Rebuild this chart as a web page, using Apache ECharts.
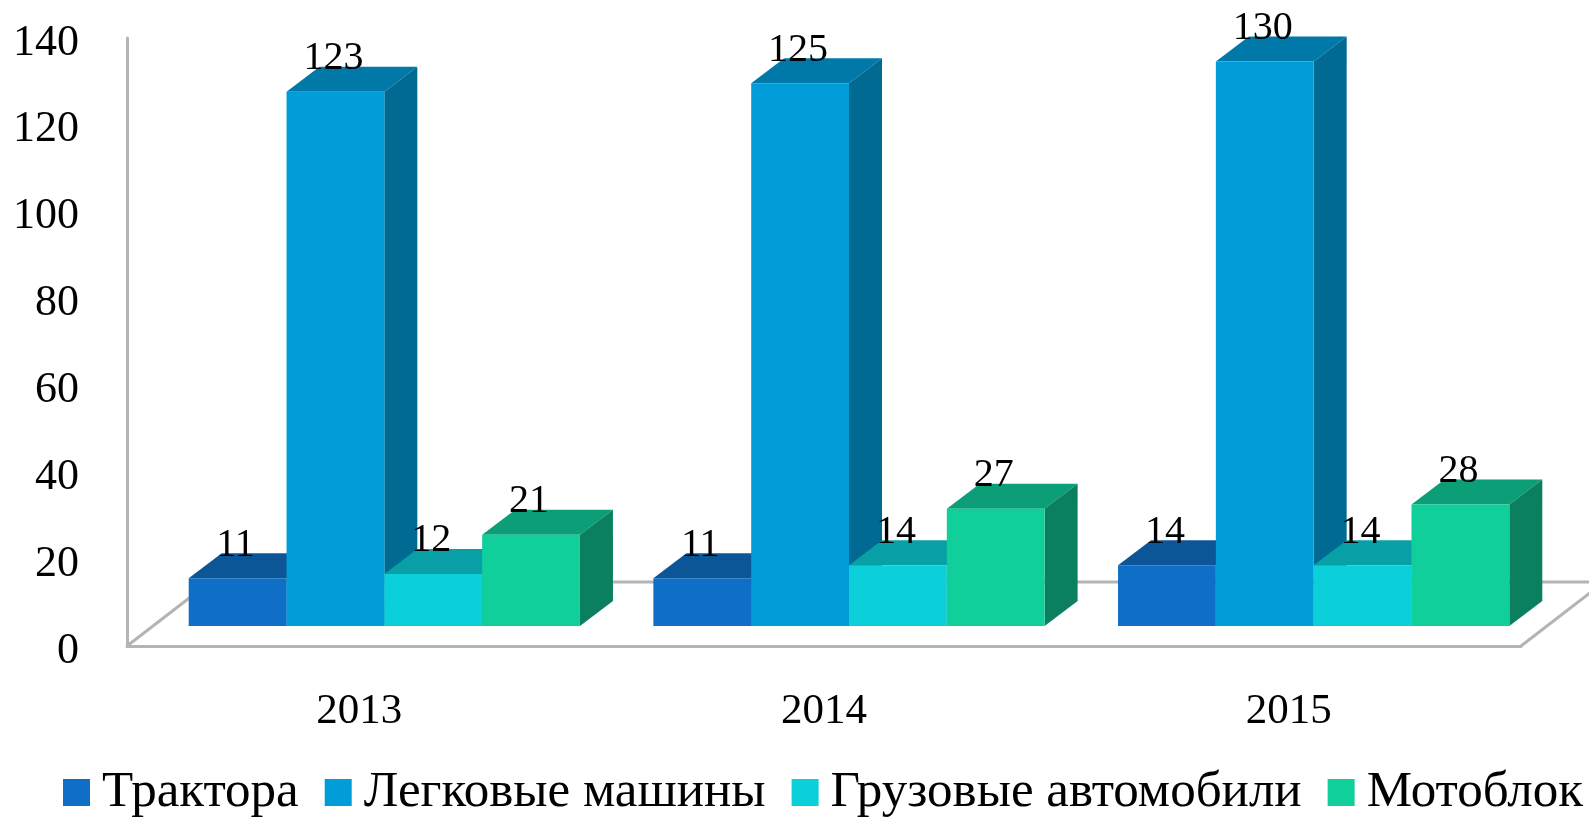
<!DOCTYPE html>
<html>
<head>
<meta charset="utf-8">
<style>
    html, body { margin: 0; padding: 0; background: #fff; }
    #chart { width: 1589px; height: 817px; }
</style>
</head>
<body>
<div id="chart"></div>
<script src="https://cdn.jsdelivr.net/npm/echarts@6/dist/echarts.min.js"></script>
<script>
const years = ['2013', '2014', '2015'];
const seriesNames = ['Трактора', 'Легковые машины', 'Грузовые автомобили', 'Мотоблок'];
const tractors = [11, 11, 14];
const cars = [123, 125, 130];
const trucks = [12, 14, 14];
const motoblocks = [21, 27, 28];
const frontColors = ['#0F6FC6', '#009DD9', '#0BD0D9', '#10CF9B'];
const topColors = ['#0C5597', '#0079A8', '#08A0A6', '#0C9F77'];
const sideColors = ['#0A4A85', '#006A93', '#078C92', '#0B8060'];

const FONT = '"Liberation Serif", serif';
const GRID_LEFT = 127, GRID_WIDTH = 1394, GRID_TOP = 38, GRID_BOTTOM = 171;

// смещение брусков от передней кромки пола и глубина самих брусков
const FLOOR_DX = 25, FLOOR_DY = -20;
const BAR_DX = 33, BAR_DY = -25;
const BAR_SHARE = 0.2105;

const chart = echarts.init(document.getElementById('chart'));

function floorItem(params, api) {
    const c = params.coordSys;
    const bottom = c.y + c.height;
    const style = { stroke: '#b4b4b4', lineWidth: 3, fill: null };
    return {
        type: 'group',
        children: [{
            type: 'polyline',
            shape: { points: [[c.x, bottom], [c.x + 83, bottom - 64], [c.x + c.width + 83, bottom - 64], [c.x + c.width, bottom]] },
            style: style
        }]
    };
}

function barItem(seriesIndex) {
    return function (params, api) {
        const cat = api.value(0);
        const val = api.value(1);
        const top = api.coord([cat, val]);
        const base = api.coord([cat, 0]);
        const w = api.size([1, 0])[0] * BAR_SHARE;
        const x0 = base[0] + FLOOR_DX + (seriesIndex - 2) * w;
        const x1 = x0 + w;
        const y0 = base[1] + FLOOR_DY;
        const yT = top[1] + FLOOR_DY;
        return {
            type: 'group',
            children: [
                { type: 'polygon', shape: { points: [[x0, yT], [x1, yT], [x1 + BAR_DX, yT + BAR_DY], [x0 + BAR_DX, yT + BAR_DY]] }, style: { fill: topColors[seriesIndex] } },
                { type: 'polygon', shape: { points: [[x1, yT], [x1 + BAR_DX, yT + BAR_DY], [x1 + BAR_DX, y0 + BAR_DY], [x1, y0]] }, style: { fill: sideColors[seriesIndex] } },
                { type: 'rect', shape: { x: x0, y: yT, width: w, height: y0 - yT }, style: { fill: frontColors[seriesIndex] } },
                {
                    type: 'text',
                    z2: 100,
                    x: x0 + w / 2 - 2,
                    y: yT + BAR_DY - 8,
                    style: { text: String(val), fill: '#000', font: '40px ' + FONT, textAlign: 'center', textVerticalAlign: 'middle' }
                }
            ]
        };
    };
}

const allValues = [tractors, cars, trucks, motoblocks];

chart.setOption({
    animation: false,
    backgroundColor: '#fff',
    grid: { left: GRID_LEFT, width: GRID_WIDTH, top: GRID_TOP, bottom: GRID_BOTTOM },
    legend: {
        data: seriesNames,
        left: 63,
        top: 767,
        padding: 0,
        icon: 'rect',
        itemWidth: 27,
        itemHeight: 27,
        itemGap: 26,
        textStyle: { fontFamily: FONT, fontSize: 51, color: '#000', padding: [0, 0, 0, 7] }
    },
    xAxis: {
        type: 'category',
        data: years,
        axisLine: { lineStyle: { color: '#b4b4b4', width: 3 } },
        axisTick: { show: false },
        axisLabel: { fontFamily: FONT, fontSize: 43, color: '#000', margin: 44 }
    },
    yAxis: {
        type: 'value',
        min: 0,
        max: 140,
        interval: 20,
        axisLine: { show: true, lineStyle: { color: '#b4b4b4', width: 3 } },
        axisTick: { show: false },
        splitLine: { show: false },
        // подписи в оригинале чуть ниже делений
        axisLabel: { fontFamily: FONT, fontSize: 44, color: '#000', margin: 48, verticalAlign: 'top', lineHeight: 10 }
    },
    series: [
        { type: 'custom', name: 'floor', silent: true, clip: false, data: [[0, 0]], encode: { x: 0, y: 1 }, renderItem: floorItem },
        ...seriesNames.map((name, i) => ({
            type: 'custom',
            name: name,
            clip: false,
            itemStyle: { color: frontColors[i] },
            encode: { x: 0, y: 1 },
            data: allValues[i].map((v, k) => [k, v]),
            renderItem: barItem(i)
        }))
    ]
});

window.addEventListener('resize', () => chart.resize());
</script>
</body>
</html>
